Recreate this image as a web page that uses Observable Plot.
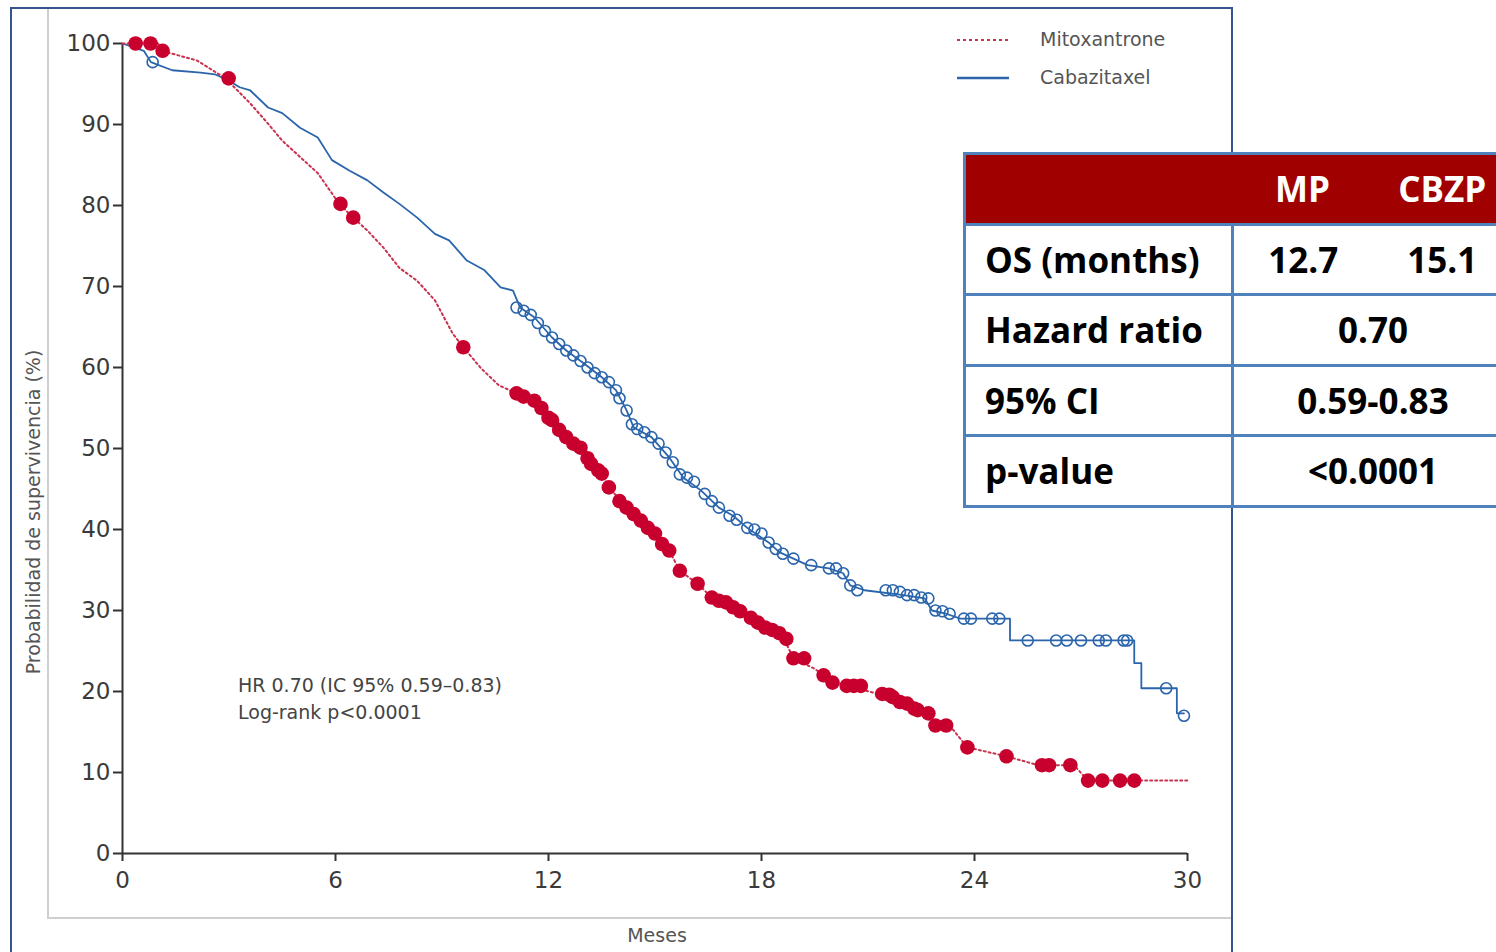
<!DOCTYPE html>
<html><head><meta charset="utf-8">
<script src="https://cdn.jsdelivr.net/npm/d3@7"></script>
<script src="https://cdn.jsdelivr.net/npm/@observablehq/plot@0.6"></script>
<style>
html,body{margin:0;padding:0;background:#fff;width:1496px;height:952px;overflow:hidden;}
#wrap{position:relative;width:1600px;height:952px;overflow:hidden;}
.abs{position:absolute;}
.txt{font-family:"DejaVu Sans",sans-serif;color:#555;white-space:nowrap;}
#tbl{position:absolute;left:963px;top:152px;width:549px;border-collapse:collapse;table-layout:fixed;font-family:"Open Sans",sans-serif;font-weight:700;font-size:35px;color:#000;background:#fff;}
#tbl td{border:3px solid #4F81BD;height:67.5px;padding:0;text-align:center;white-space:nowrap;}
#tbl td.lab{text-align:left;padding-left:19px;}
#tbl tr.head td{background:#A00000;color:#fff;}
#tbl tr.head td.nl{border-left:none;}
#tbl tr.head td.nr{border-right:none;}
#tbl td.nlb{border-left:none;}
#tbl td.nrb{border-right:none;}
</style></head><body><div id="wrap"></div>
<script>
// ---- data ----
const monthTicks = [0, 6, 12, 18, 24, 30];
const survTicks = [0, 10, 20, 30, 40, 50, 60, 70, 80, 90, 100];
const seriesNames = ["Mitoxantrone", "Cabazitaxel"];

// Mitoxantrone KM curve [month, survival %]
const mitoxCurve = [
  [0,100],[1.0,100],[1.1,99.1],[2.1,97.9],[2.9,95.7],[3.6,92.6],[4.1,90.1],[4.5,88],[5.0,86],[5.5,84],
  [5.9,81.5],[6.1,80.2],[6.5,78.5],[6.9,76.9],[7.35,74.8],[7.8,72.3],[8.3,70.7],[8.8,68.3],[9.3,64.2],
  [9.6,62.5],[10.1,59.9],[10.6,57.8],[11.1,56.8],[11.6,55.9],[12.1,53.5],[12.5,51.4],[12.9,50.1],
  [13.2,48.1],[13.5,46.9],[13.7,45.2],[14.2,42.7],[14.6,41.1],[15.0,39.5],[15.4,37.4],[15.7,34.9],
  [16.2,33.3],[16.6,31.6],[17.2,30.4],[17.7,29.1],[18.1,27.9],[18.5,27.2],[18.7,25.9],[18.9,24.1],
  [19.5,22.8],[19.75,22.0],[20.0,21.1],[20.4,20.7],[21.3,19.7],[21.7,19.3],[22.1,18.5],[22.4,17.7],
  [22.7,17.3],[22.9,15.8],[23.3,15.8],[23.8,13.1],[24.9,12.0],[25.8,10.9],[26.8,10.9],[27.2,9.0],[30.0,9.0]
];
// Mitoxantrone censored observations
const mitoxCensored = [
  [0.37,100],[0.79,100],[1.13,99.1],[2.99,95.7],[6.14,80.2],[6.5,78.5],[9.6,62.5],
  [11.1,56.8],[11.3,56.4],[11.6,55.9],[11.8,55.0],[12.0,53.8],[12.1,53.5],[12.3,52.3],[12.5,51.4],
  [12.7,50.6],[12.9,50.1],[13.1,48.8],[13.2,48.1],[13.4,47.3],[13.5,46.9],[13.7,45.2],[14.0,43.5],
  [14.2,42.7],[14.4,41.9],[14.6,41.1],[14.8,40.2],[15.0,39.5],[15.2,38.2],[15.4,37.4],[15.7,34.9],
  [16.2,33.3],[16.6,31.6],[16.8,31.2],[17.0,31.0],[17.2,30.4],[17.4,29.9],[17.7,29.1],[17.9,28.5],
  [18.1,27.9],[18.3,27.6],[18.5,27.2],[18.7,26.5],[18.9,24.1],[19.2,24.1],[19.75,22.0],[20.0,21.1],
  [20.4,20.7],[20.6,20.7],[20.8,20.7],[21.4,19.7],[21.6,19.6],[21.7,19.3],[21.9,18.7],[22.1,18.5],
  [22.3,17.9],[22.4,17.7],[22.7,17.3],[22.9,15.8],[23.2,15.8],[23.8,13.1],[24.9,12.0],[25.9,10.9],
  [26.1,10.9],[26.7,10.9],[27.2,9.0],[27.6,9.0],[28.1,9.0],[28.5,9.0]
];
// Cabazitaxel KM curve
const cabaziCurve = [
  [0,100],[0.6,99.1],[0.8,97.7],[1.4,96.7],[2.2,96.4],[2.6,96.2],[3.0,95.4],[3.3,94.6],[3.6,94.2],
  [4.1,92.1],[4.5,91.4],[5.0,89.6],[5.5,88.4],[5.9,85.6],[6.4,84.3],[6.9,83.1],[7.35,81.6],[7.8,80.2],
  [8.3,78.5],[8.8,76.5],[9.2,75.7],[9.7,73.2],[10.2,72.0],[10.65,69.9],[11.0,69.5],[11.2,67.4],
  [11.6,66.2],[12.1,63.7],[12.5,62.1],[13.0,60.5],[13.5,58.8],[13.9,57.2],[14.2,54.7],[14.4,52.6],
  [14.9,51.4],[15.4,48.9],[15.8,46.4],[16.3,44.8],[16.8,42.7],[17.2,41.7],[17.6,40.2],[18.2,38.4],
  [18.5,37.2],[18.9,36.4],[19.3,35.6],[19.9,35.2],[20.3,34.6],[20.5,33.1],[20.9,32.5],[22.0,31.9],
  [22.6,31.5],[22.8,30.0],[23.2,29.6],[23.6,29.0],[25.0,29.0],[25.0,26.3],[28.5,26.3],[28.5,23.5],
  [28.7,23.5],[28.7,20.4],[29.7,20.4],[29.7,17.3],[29.9,17.3]
];
// Cabazitaxel censored observations
const cabaziCensored = [
  [0.85,97.7],[11.1,67.4],[11.3,67.0],[11.5,66.5],[11.7,65.5],[11.9,64.5],[12.1,63.7],[12.3,62.9],
  [12.5,62.1],[12.7,61.5],[12.9,60.8],[13.1,60.0],[13.3,59.3],[13.5,58.8],[13.7,58.2],[13.9,57.2],
  [14.0,56.2],[14.2,54.7],[14.35,53.0],[14.5,52.4],[14.7,52.0],[14.9,51.4],[15.1,50.6],[15.3,49.5],
  [15.5,48.3],[15.7,46.8],[15.9,46.4],[16.1,45.9],[16.4,44.4],[16.6,43.5],[16.8,42.7],[17.1,41.7],
  [17.3,41.2],[17.6,40.2],[17.8,40.0],[18.0,39.5],[18.2,38.4],[18.4,37.6],[18.6,37.0],[18.9,36.4],
  [19.4,35.6],[19.9,35.2],[20.1,35.2],[20.3,34.6],[20.5,33.1],[20.7,32.5],[21.5,32.5],[21.7,32.5],
  [21.9,32.3],[22.1,31.9],[22.3,31.9],[22.5,31.6],[22.7,31.5],[22.9,30.0],[23.1,29.9],[23.3,29.6],
  [23.7,29.0],[23.9,29.0],[24.5,29.0],[24.7,29.0],[25.5,26.3],[26.3,26.3],[26.6,26.3],[27.0,26.3],
  [27.5,26.3],[27.7,26.3],[28.2,26.3],[28.3,26.3],[29.4,20.4],[29.9,17.0]
];

const tableHeader = ["", "MP", "CBZP"];
const tableLabels = ["OS (months)", "Hazard ratio", "95% CI", "p-value"];
const osValues = ["12.7", "15.1"];
const sharedValues = ["0.70", "0.59-0.83", "<0.0001"];
const annotationLines = ["HR 0.70 (IC 95% 0.59\u20130.83)", "Log-rank p<0.0001"];
const xLabel = "Meses";
const yLabel = "Probabilidad de supervivencia (%)";

// ---- colours ----
const RED = "#C8002E", RED_LINE = "#C8324E", BLUE = "#2A65AC";

const wrap = document.getElementById("wrap");

const W = 1232, H = 952;
const chart = Plot.plot({
  width: W, height: H,
  marginLeft: 122, marginRight: W - 1187, marginTop: 43, marginBottom: H - 853,
  x: {domain: [0, 30]},
  y: {domain: [0, 100]},
  style: {fontFamily: "DejaVu Sans", fontSize: "23px", color: "#3a3a3a", background: "transparent", overflow: "visible"},
  marks: [
    Plot.axisX(monthTicks, {tickSize: 8, tickPadding: 10, strokeWidth: 2, stroke: "#333", fill: "#3a3a3a", label: null, fontSize: 23}),
    Plot.axisY(survTicks, {tickSize: 9, tickPadding: 3, strokeWidth: 2, stroke: "#333", fill: "#3a3a3a", label: null, fontSize: 23}),
    Plot.ruleX([0], {stroke: "#333", strokeWidth: 2}),
    Plot.ruleY([0], {stroke: "#333", strokeWidth: 2}),
    Plot.line(cabaziCurve, {x: d => d[0], y: d => d[1], curve: "linear", stroke: BLUE, strokeWidth: 1.8}),
    Plot.line(mitoxCurve, {x: d => d[0], y: d => d[1], curve: "linear", stroke: RED_LINE, strokeWidth: 2, strokeDasharray: "2,3"}),
    Plot.dot(cabaziCensored, {x: d => d[0], y: d => d[1], r: 5.5, stroke: BLUE, strokeWidth: 1.6, fill: "none"}),
    Plot.dot(mitoxCensored, {x: d => d[0], y: d => d[1], r: 7.3, fill: RED, stroke: "none"})
  ]
});
chart.style.position = "absolute";
chart.style.left = "0px";
chart.style.top = "0px";
wrap.appendChild(chart);

function div(css, html, cls) {
  const d = document.createElement("div");
  d.className = "abs " + (cls || "");
  d.style.cssText += css;
  if (html != null) d.innerHTML = html;
  wrap.appendChild(d);
  return d;
}

// frame: outer dark-blue border and inner grey L
div("left:10px;top:7px;width:1223px;height:960px;border:2px solid #34558B;box-sizing:border-box;");
div("left:47px;top:9px;width:2px;height:910px;background:#cfcfcf;");
div("left:47px;top:917px;width:1184px;height:2px;background:#cfcfcf;");

// axis titles
div("left:33px;top:512px;transform:translate(-50%,-50%) rotate(-90deg);font-size:19px;", yLabel, "txt");
div("left:657px;top:935px;transform:translate(-50%,-50%);font-size:19px;", xLabel, "txt");

// annotation
div("left:238px;top:672px;font-size:19px;line-height:27px;color:#444;", annotationLines.join("<br>"), "txt");

// legend
div("left:955px;top:29px;", `<svg width="56" height="60"><line x1="2" x2="54" y1="11" y2="11" stroke="${RED_LINE}" stroke-width="2" stroke-dasharray="3,3"/><line x1="2" x2="54" y1="49" y2="49" stroke="${BLUE}" stroke-width="2.5"/></svg>`);
div("left:1040px;top:27px;font-size:19px;line-height:24px;", seriesNames[0], "txt");
div("left:1040px;top:65px;font-size:19px;line-height:24px;", seriesNames[1], "txt");

// table
const t = document.createElement("table");
t.id = "tbl";
let h = `<colgroup><col style="width:268px"><col style="width:140px"><col style="width:141px"></colgroup>`;
h += `<tr class="head"><td class="nr"></td><td class="nl nr">${tableHeader[1]}</td><td class="nl">${tableHeader[2]}</td></tr>`;
h += `<tr><td class="lab">${tableLabels[0]}</td><td class="nrb">${osValues[0]}</td><td class="nlb">${osValues[1]}</td></tr>`;
for (let i = 1; i < tableLabels.length; i++) {
  h += `<tr><td class="lab">${tableLabels[i]}</td><td colspan="2">${sharedValues[i-1]}</td></tr>`;
}
t.innerHTML = h;
wrap.appendChild(t);
</script></body></html>
